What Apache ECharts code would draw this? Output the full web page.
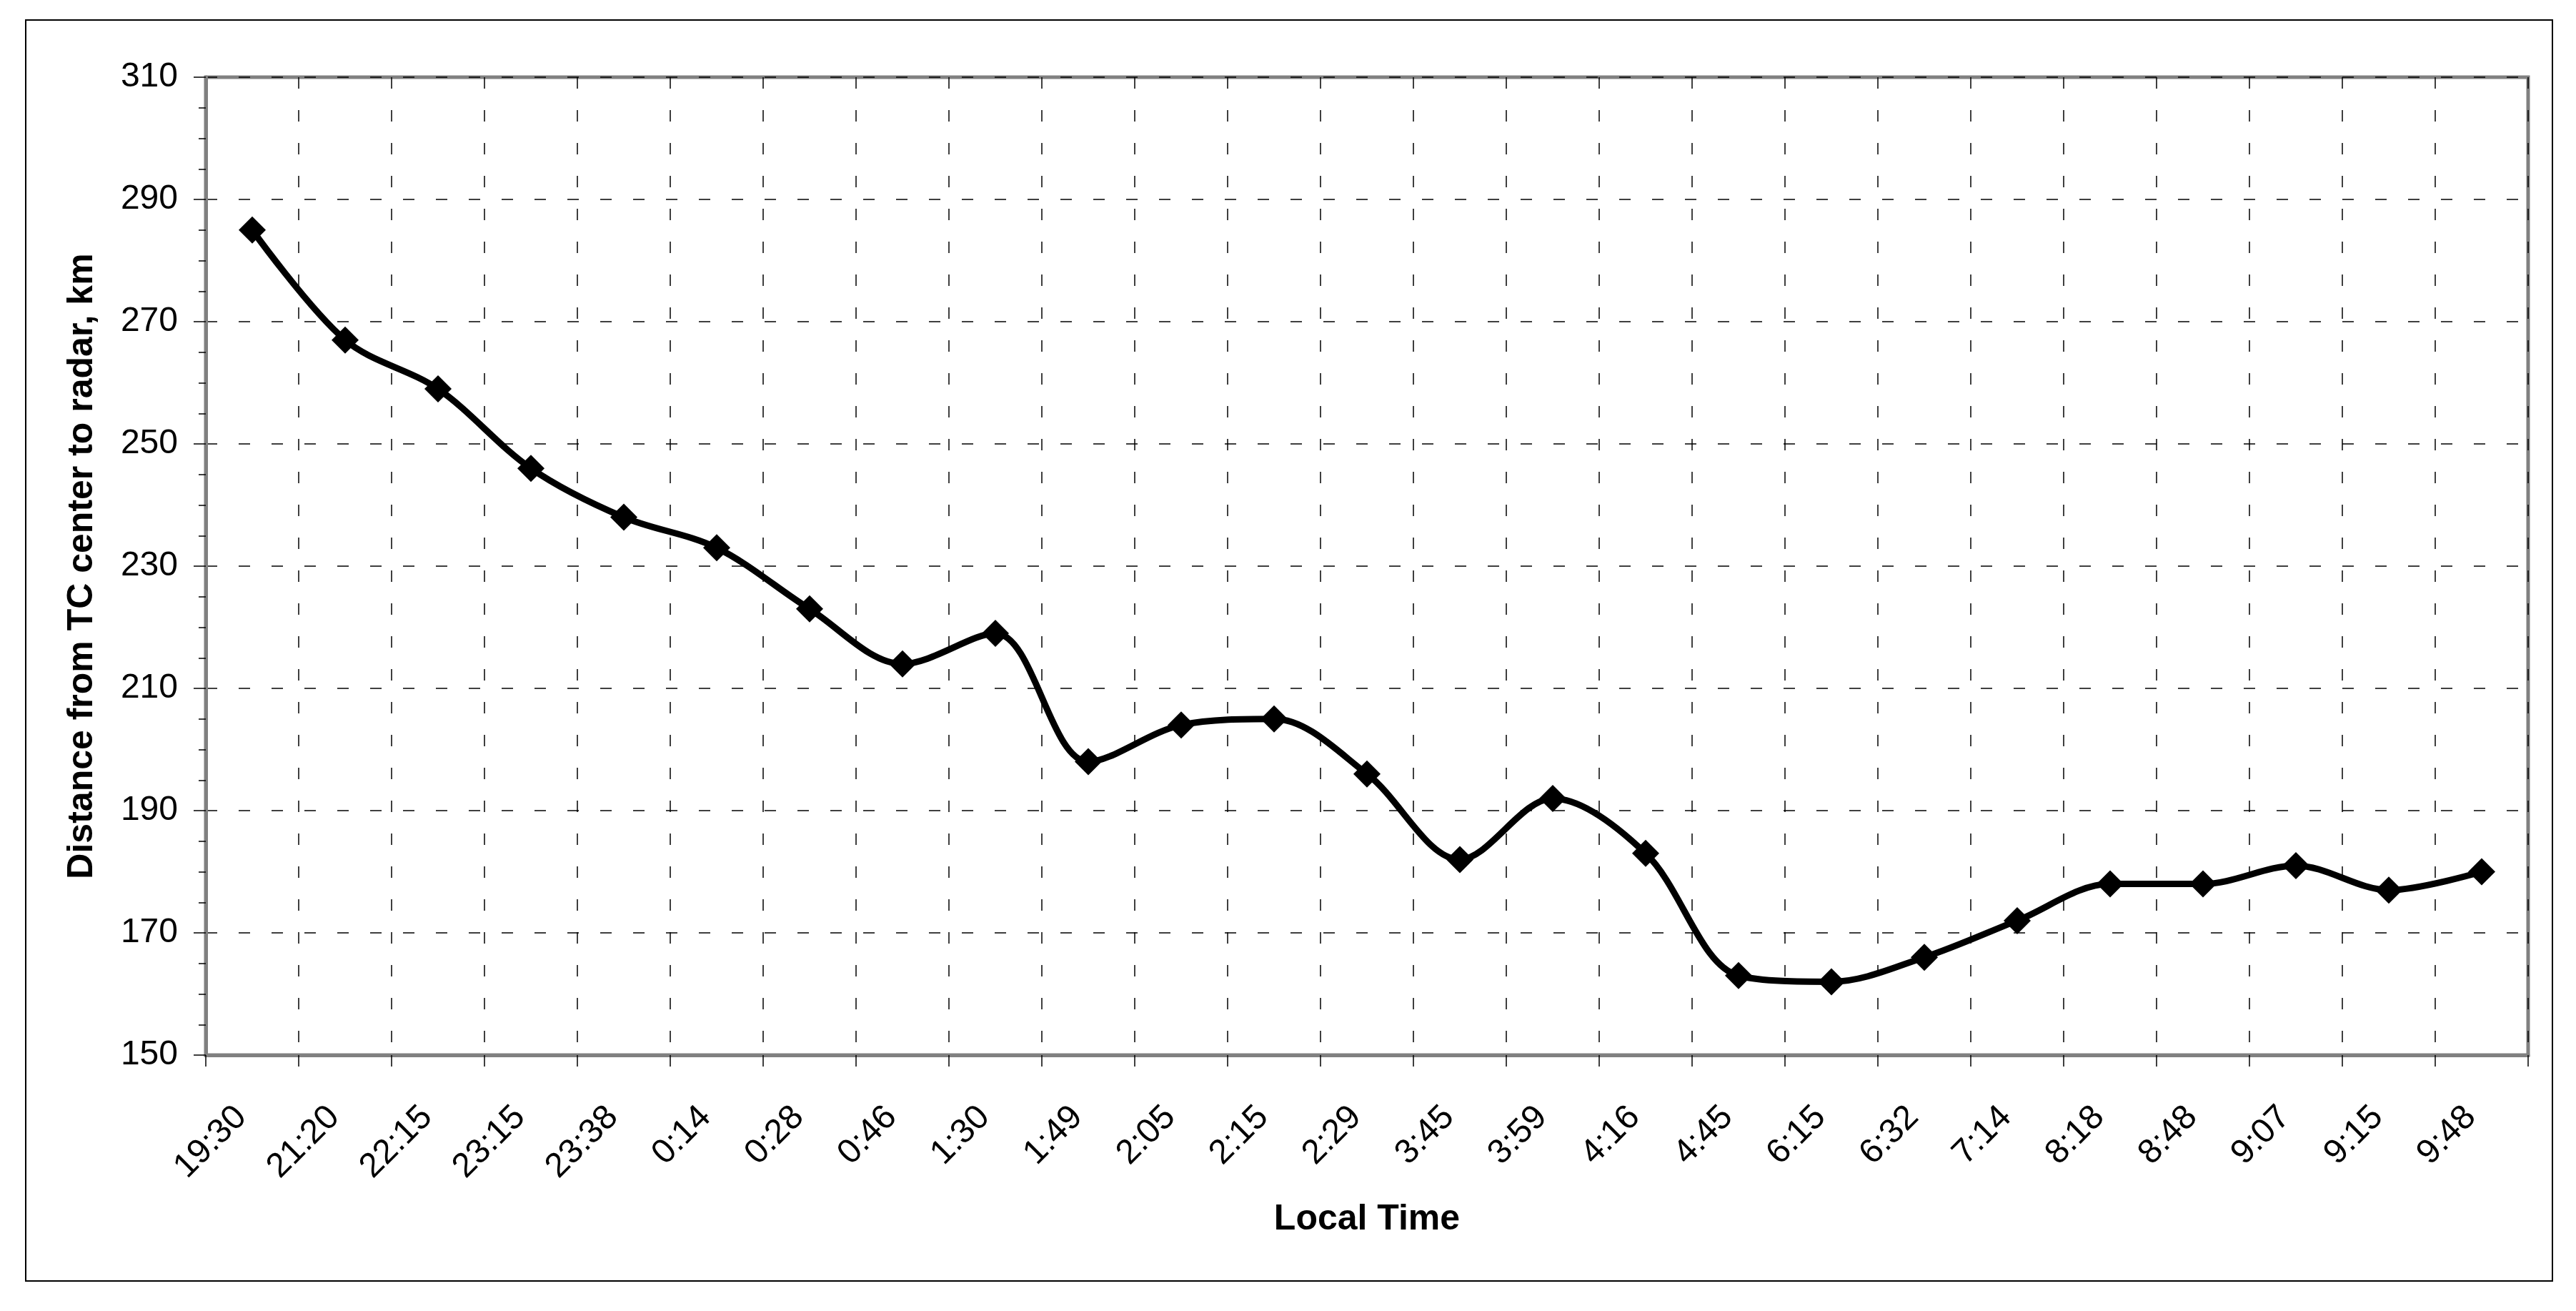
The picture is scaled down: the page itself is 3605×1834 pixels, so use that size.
<!DOCTYPE html>
<html>
<head>
<meta charset="utf-8">
<script src="https://cdn.jsdelivr.net/npm/echarts@6/dist/echarts.min.js"></script>
<style>
  html, body { margin: 0; padding: 0; background: #ffffff; }
  #chart { width: 3605px; height: 1834px; }
</style>
</head>
<body>
<div id="chart"></div>
<script>
// ---- data ----
const categories = ['19:30','21:20','22:15','23:15','23:38','0:14','0:28','0:46','1:30','1:49',
                    '2:05','2:15','2:29','3:45','3:59','4:16','4:45','6:15','6:32','7:14',
                    '8:18','8:48','9:07','9:15','9:48'];
const distanceKm = [285,267,259,246,238,233,223,214,219,198,
                    204,205,196,182,192,183,163,162,166,172,
                    178,178,181,177,180];
const yMin = 150;
const yMax = 310;
const yStep = 20;
const xTitle = 'Local Time';
const yTitle = 'Distance from TC center to radar, km';

const FONT = '"Liberation Sans", Arial, sans-serif';
const chart = echarts.init(document.getElementById('chart'), null, { renderer: 'canvas' });

chart.setOption({
  animation: false,
  backgroundColor: '#ffffff',
  graphic: [{
    type: 'rect',
    shape: { x: 36, y: 28, width: 3536, height: 1764 },
    style: { fill: 'none', stroke: '#000000', lineWidth: 2 },
    silent: true,
    z: -1
  }],
  grid: {
    left: 288, right: 67, top: 108, bottom: 358,
    show: true, backgroundColor: '#ffffff',
    borderColor: '#808080', borderWidth: 5
  },
  xAxis: {
    type: 'category',
    data: categories,
    boundaryGap: true,
    axisLine: { show: true, lineStyle: { color: '#808080', width: 5 } },
    axisTick: { show: true, interval: 0, length: 16, lineStyle: { color: '#000000', width: 1.5 } },
    splitLine: { show: true, interval: 0, lineStyle: { color: '#000000', width: 1.5, type: [16, 30] } },
    axisLabel: {
      interval: 0, rotate: 45, fontSize: 48, color: '#000000', fontFamily: FONT,
      margin: 64, padding: [0, 22, 44, 0]
    },
    name: xTitle,
    nameLocation: 'middle',
    nameGap: 205,
    nameTextStyle: { fontSize: 50, fontWeight: 'bold', color: '#000000', fontFamily: FONT }
  },
  yAxis: {
    type: 'value',
    min: yMin, max: yMax, interval: yStep,
    axisLine: { show: true, lineStyle: { color: '#808080', width: 5 } },
    axisTick: { show: true, length: 17, lineStyle: { color: '#000000', width: 1.5 } },
    minorTick: { show: true, splitNumber: 4, length: 10, lineStyle: { color: '#000000', width: 1.5 } },
    splitLine: { show: true, lineStyle: { color: '#000000', width: 1.5, type: [16, 30] } },
    axisLabel: { fontSize: 48, color: '#000000', fontFamily: FONT, margin: 39 },
    name: yTitle,
    nameLocation: 'middle',
    nameRotate: 90,
    nameGap: 148,
    nameTextStyle: { fontSize: 50, fontWeight: 'bold', color: '#000000', fontFamily: FONT }
  },
  series: [{
    type: 'line',
    data: distanceKm,
    smooth: 0.33,
    symbol: 'diamond',
    symbolSize: 38,
    showSymbol: true,
    lineStyle: { color: '#000000', width: 9 },
    itemStyle: { color: '#000000' },
    emphasis: { disabled: true }
  }]
});
</script>
</body>
</html>
